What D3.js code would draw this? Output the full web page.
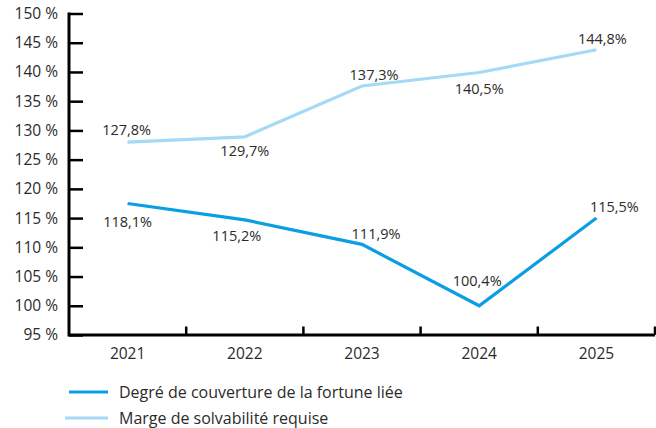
<!DOCTYPE html>
<html>
<head>
<meta charset="utf-8">
<script src="https://cdn.jsdelivr.net/npm/d3@7"></script>
<style>
  body { margin: 0; background: #fff; }
  svg text { font-family: "Open Sans", sans-serif; fill: #2b2b2b; }
</style>
</head>
<body>
<svg id="chart" width="656" height="428"></svg>
<script>
// data
const years = ["2021", "2022", "2023", "2024", "2025"];
const coverage = [117.5, 114.7, 110.5, 100.0, 115.0];
const coverageLabels = ["118,1%", "115,2%", "111,9%", "100,4%", "115,5%"];
const solvency = [128.0, 128.9, 137.6, 139.9, 143.8];
const solvencyLabels = ["127,8%", "129,7%", "137,3%", "140,5%", "144,8%"];
const yTicks = [95, 100, 105, 110, 115, 120, 125, 130, 135, 140, 145, 150];
const legendNames = ["Degré de couverture de la fortune liée", "Marge de solvabilité requise"];

// label nudges (layout only)
const coverageNudge = [[0, 18], [-8, 16], [14, -10], [-2, -25], [18, -11]];
const solvencyNudge = [[-1, -12], [0, 14], [12, -11], [0, 16], [6, -11]];

const blue = "#0a9fe2", lightBlue = "#a5daf6";

const svg = d3.select("#chart");
const plotLeft = 69, plotRight = 655, plotTop = 13.5, plotBottom = 335;

const x = d3.scaleBand().domain(years).range([plotLeft, plotRight]);
const y = d3.scaleLinear().domain([95, 150]).range([plotBottom, plotTop]);
const cx = d => x(d) + x.bandwidth() / 2;

// y axis
const yAxis = svg.append("g")
    .attr("transform", `translate(${plotLeft},0)`)
    .call(d3.axisRight(y).tickValues(yTicks).tickSize(14).tickFormat(d => d + " %"));
yAxis.select(".domain").remove();
yAxis.selectAll("line").attr("stroke", "#000").attr("stroke-width", 2.5);
yAxis.selectAll("text")
    .attr("x", -11)
    .attr("text-anchor", "end")
    .attr("font-size", 15.5)
    .style("font-family", "'Open Sans', sans-serif");

// x axis
const xAxis = svg.append("g")
    .attr("transform", `translate(0,${plotBottom})`)
    .call(d3.axisBottom(x).tickSize(0));
xAxis.select(".domain").remove();
xAxis.selectAll("line").remove();
xAxis.selectAll("text")
    .attr("y", 19)
    .attr("dy", "0.35em")
    .attr("font-size", 15.5)
    .style("font-family", "'Open Sans', sans-serif");

// x ticks between categories (pointing up)
svg.append("g").selectAll("line")
  .data(years)
  .join("line")
    .attr("x1", d => x(d) + x.bandwidth())
    .attr("x2", d => x(d) + x.bandwidth())
    .attr("y1", plotBottom)
    .attr("y2", plotBottom - 8.5)
    .attr("stroke", "#000")
    .attr("stroke-width", 2.5);

// axis lines
svg.append("path")
    .attr("d", `M${plotLeft},${plotTop - 1}V${plotBottom}H${plotRight}`)
    .attr("fill", "none")
    .attr("stroke", "#000")
    .attr("stroke-width", 3);

const line = d3.line().x((d, i) => cx(years[i])).y(d => y(d));

function series(values, labels, nudge, color) {
  svg.append("path")
      .datum(values)
      .attr("fill", "none")
      .attr("stroke", color)
      .attr("stroke-width", 3.2)
      .attr("d", line);
  svg.append("g").selectAll("text")
    .data(values)
    .join("text")
      .attr("x", (d, i) => cx(years[i]) + nudge[i][0])
      .attr("y", (d, i) => y(d) + nudge[i][1])
      .attr("dy", "0.35em")
      .attr("text-anchor", "middle")
      .attr("font-size", 14.5)
      .text((d, i) => labels[i]);
}

series(solvency, solvencyLabels, solvencyNudge, lightBlue);
series(coverage, coverageLabels, coverageNudge, blue);

// legend
const legend = svg.append("g").selectAll("g")
  .data(legendNames)
  .join("g")
    .attr("transform", (d, i) => `translate(0,${392 + i * 26})`);
legend.append("line")
    .attr("x1", (d, i) => i === 0 ? 69 : 65)
    .attr("x2", 108)
    .attr("stroke", (d, i) => i === 0 ? blue : lightBlue)
    .attr("stroke-width", 3.2);
legend.append("text")
    .attr("x", 119)
    .attr("dy", "0.35em")
    .attr("font-size", 16)
    .text(d => d);
</script>
</body>
</html>
